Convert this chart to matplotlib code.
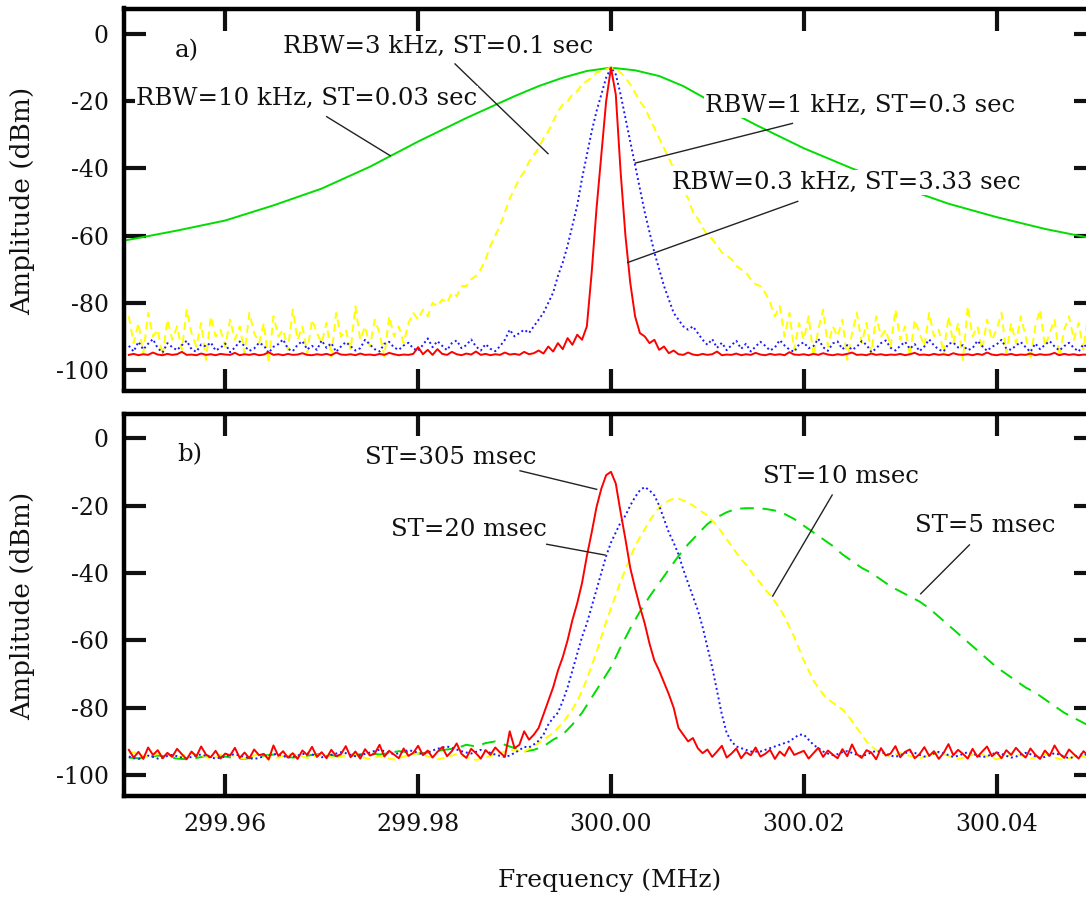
import numpy as np
import matplotlib
matplotlib.use("Agg")
import matplotlib.pyplot as plt

plt.rcParams['font.family'] = ['DejaVu Serif']
plt.rcParams['axes.unicode_minus'] = False

# frequency grid start and spacing (MHz) for the sampled traces
F0 = 299.95
STEP = 0.0005

# ---- panel a) : RBW / sweep time pairs ----
green_a_freq = [299.9495, 299.955, 299.960, 299.965, 299.970, 299.975, 299.980, 299.985,
                299.990, 299.9925, 299.995, 299.9975, 300.000, 300.0025, 300.005, 300.0075,
                300.010, 300.015, 300.020, 300.025, 300.030, 300.035, 300.040, 300.045, 300.0502]
green_a_amp = [-61.5, -58.5, -55.5, -51, -46, -39.5, -32, -25,
               -18.5, -15.5, -13, -11, -10, -10.8, -12.5, -15.5,
               -19.5, -27, -34, -40, -45.5, -50.5, -54.5, -58, -61]

yellow_a_amp = [
    -84, -92, -86, -95, -83, -90, -88, -96, -85, -91, -87, -94, -82, -89, -93, -86, -97, -84, -90, -88,
    -93, -85, -91, -87, -95, -83, -89, -92, -86, -98, -84, -90, -88, -94, -82, -91, -87, -95, -85, -89,
    -92, -86, -96, -83, -90, -88, -94, -81, -91, -87, -93, -85, -89, -96, -84, -90, -87, -92, -86, -83,
    -85, -82, -84, -80, -81, -79, -80, -77, -78, -75, -75, -73, -72, -70, -67, -63, -60, -57, -53, -49,
    -46, -43, -41, -38, -36, -34, -31, -29, -26, -23, -21, -20, -18, -17, -15, -14, -13, -11.5, -11, -10.5,
    -10, -10.5, -11.5, -13, -15, -17.5, -20, -22, -25, -28, -31, -34, -37, -40, -43, -46, -49, -53, -55, -57.5,
    -60, -61, -63, -65, -66, -67, -69, -70, -71, -73, -74.5, -75, -77, -80, -84, -81, -90, -83, -94, -86,
    -91, -84, -96, -88, -82, -93, -87, -90, -85, -97, -89, -83, -92, -86, -95, -84, -90, -88, -93, -82,
    -91, -87, -96, -85, -89, -93, -83, -90, -88, -95, -84, -92, -86, -97, -81, -90, -87, -94, -85, -91,
    -88, -83, -95, -86, -92, -84, -90, -97, -87, -82, -93, -89, -85, -96, -88, -84, -91, -86, -94, -83, -90]

blue_a_amp = [
    -92.8, -94.5, -91.6, -93.9, -92.2, -90.8, -93.5, -94.8, -92.0, -93.2, -94.1, -92.6, -91.3, -93.8, -94.6, -92.4, -93.0, -91.8, -94.2, -93.4,
    -92.1, -94.7, -93.3, -91.5, -92.9, -94.3, -93.6, -91.9, -92.7, -94.9, -93.1, -92.3, -90.9, -93.7, -94.4, -92.5, -91.4, -93.9, -92.8, -94.0,
    -91.2, -93.4, -92.0, -94.6, -93.0, -91.7, -92.9, -94.2, -93.5, -91.0, -92.4, -93.8, -94.5, -92.2, -91.6, -93.3, -94.0, -92.7, -91.9, -93.6,
    -94.3, -92.5, -90.6, -93.2, -91.4, -92.8, -94.1, -92.0, -91.2, -93.5, -92.6, -90.9, -93.0, -94.2, -92.3, -93.7, -94.4, -92.9, -91, -88,
    -90, -89, -88, -89, -87, -85, -83, -80, -77, -72, -68, -63, -57, -51, -43, -36, -29, -23, -18, -13,
    -10, -12, -18, -25, -32, -39, -46, -53, -59, -65, -70, -75, -79, -83, -85, -87, -88, -87, -89, -91,
    -92.5, -90.8, -93.4, -91.9, -94.1, -92.6, -91.3, -93.7, -92.2, -94.5, -93.0, -91.6, -92.8, -94.2, -93.3, -91.1, -92.7, -93.9, -94.6, -92.4,
    -91.8, -93.5, -92.9, -90.7, -93.2, -94.3, -92.1, -91.5, -93.8, -92.6, -94.0, -93.1, -91.4, -92.5, -94.7, -93.6, -92.0, -91.2, -93.4, -94.2,
    -92.8, -91.6, -93.7, -92.3, -94.4, -93.0, -90.9, -92.7, -93.9, -94.5, -92.2, -91.8, -93.3, -92.6, -94.1, -93.5, -91.3, -92.9, -94.3, -93.1,
    -92.4, -91.0, -93.6, -94.0, -92.7, -91.7, -93.2, -94.6, -92.1, -93.8, -92.5, -91.4, -93.0, -94.2, -92.9, -91.9, -93.4, -94.5, -92.3, -93.7, -92.8]

red_a_amp = [
    -95.5, -95.2, -95.6, -95.3, -95.5, -94.8, -95.4, -95.6, -95.2, -95.5, -95.3, -94.6, -95.5, -95.4, -95.6, -95.1, -95.5, -95.3, -95.6, -95.2,
    -95.4, -95.5, -94.9, -95.6, -95.3, -95.5, -95.2, -95.6, -95.4, -94.7, -95.5, -95.3, -95.6, -95.2, -95.5, -95.4, -95.0, -95.5, -95.6, -95.3,
    -95.5, -95.2, -95.6, -94.8, -95.4, -95.5, -95.3, -95.6, -95.1, -95.5, -95.4, -95.6, -95.2, -95.5, -94.9, -95.3, -95.6, -95.4, -95.5, -95.2,
    -93.2, -95.3, -94.0, -95.5, -93.8, -95.2, -95.5, -94.6, -95.3, -95.6, -95.1, -95.4, -94.5, -95.5, -95.2, -95.6, -95.3, -95.5, -94.8, -95.4,
    -95.2, -95.5, -94.6, -95.3, -95.0, -94.2, -95.1, -93.0, -94.5, -92.0, -93.8, -90.5, -92.5, -89.5, -91.0, -87, -71, -52, -36, -20,
    -10, -18, -41, -60, -74, -84, -89, -90, -92, -91, -94, -93, -95.0, -94.2, -95.3, -95.5, -94.8, -95.4, -95.6, -95.2,
    -95.5, -95.3, -94.5, -95.6, -95.4, -95.5, -95.1, -95.6, -95.3, -95.5, -94.9, -95.4, -95.6, -95.2, -95.5, -95.3, -95.6, -94.7, -95.4, -95.5,
    -95.3, -95.6, -95.2, -95.5, -95.0, -95.4, -95.6, -95.3, -95.5, -95.2, -94.8, -95.5, -95.4, -95.6, -95.1, -95.5, -95.3, -95.6, -95.4, -95.5,
    -95.2, -95.6, -95.3, -94.9, -95.5, -95.4, -95.6, -95.2, -95.5, -95.3, -95.6, -95.0, -95.4, -95.5, -95.3, -95.6, -95.2, -95.5, -94.8, -95.4,
    -95.6, -95.3, -95.5, -95.2, -95.6, -95.4, -95.5, -95.1, -95.6, -95.3, -95.5, -95.4, -94.9, -95.6, -95.2, -95.5, -95.3, -95.6, -95.4, -95.5, -95.3]

# ---- panel b) : fixed RBW, different sweep times ----
green_b_step = 0.001
green_b_amp = [
    -94.8, -95.0, -94.6, -94.2, -94.5, -95.1, -95.3, -94.9, -94.4, -94.1, -94.5, -95.0, -95.2, -94.7, -94.2, -93.9, -94.3, -94.8, -94.5, -94.0,
    -93.7, -94.1, -94.6, -94.3, -93.8, -93.5, -93.9, -93.4, -92.9, -93.2, -93.6, -93.3, -92.8, -92.4, -92.0, -91.0, -91.5, -90.5, -90.0, -91.0,
    -92, -93, -92.5, -91.5, -89.5, -88, -85, -81.5, -77, -72.5, -68, -62, -56.5, -51.5, -47, -43, -39, -35, -31.5, -28.5,
    -25.5, -23.5, -22, -21, -20.8, -20.8, -21, -21.5, -22.5, -24, -26, -28, -30, -32, -34.5, -36.5, -38.5, -40, -42, -44,
    -45.5, -47, -48.5, -50.5, -53, -55.5, -58, -60.5, -63, -65.5, -68, -70, -72, -74, -75.5, -77.5, -79.5, -81.5, -83, -84.5, -86]

yellow_b_amp = [
    -93.6, -93.2, -93.8, -94.3, -94.6, -94.1, -93.7, -93.4, -93.9, -94.5, -94.8, -94.4, -93.9, -93.5, -93.8, -94.2, -94.7, -95.0, -94.6, -94.0,
    -93.6, -93.9, -94.4, -94.9, -95.1, -94.7, -94.2, -93.8, -94.1, -94.6, -95.0, -94.8, -94.3, -93.9, -93.6, -94.0, -94.5, -94.9, -94.6, -94.2,
    -93.8, -94.2, -94.7, -95.0, -94.6, -94.1, -93.7, -94.0, -94.5, -94.9, -95.2, -94.8, -94.4, -94.7, -95.1, -95.4, -95.0, -94.5, -94.1, -93.8,
    -93.5, -93.9, -94.4, -94.9, -95.3, -95.0, -94.6, -94.2, -93.8, -94.1, -94.6, -95.1, -95.5, -95.2, -94.7, -94.3, -93.9, -93.4, -93.0, -92.7,
    -92.5, -92.9, -93.0, -92.3, -91.5, -90.5, -89.5, -88.5, -87.5, -86, -84.5, -82.5, -80.5, -78, -75, -71.5, -67.5, -63.5, -59, -54.5,
    -50.5, -46.5, -42.5, -39, -35.5, -32, -29.5, -27, -24.5, -22.5, -20.5, -19.5, -18.5, -18, -18, -18.5, -19, -20, -21, -22,
    -23, -24.5, -26, -28, -30, -32, -34, -36, -37.5, -39.5, -41.5, -43, -45, -46.5, -48.5, -50.5, -53, -56, -59, -62.5,
    -66, -69, -72, -74, -76, -77.5, -78.5, -79.5, -80.5, -82, -84, -86, -88, -90, -91.5, -92.5, -93.5, -94.0, -94.4, -93.9,
    -93.5, -93.8, -94.3, -94.7, -95.0, -94.6, -94.1, -93.7, -93.4, -93.8, -94.3, -94.8, -95.2, -94.9, -94.4, -94.0, -93.6, -93.9, -94.5, -95.0,
    -95.3, -94.9, -94.4, -94.0, -93.7, -94.1, -94.6, -95.1, -94.8, -94.3, -93.9, -94.2, -94.7, -95.2, -95.5, -95.1, -94.6, -94.2, -94.5, -95.0, -95.3]

blue_b_amp = [
    -94.5, -95.0, -95.2, -94.8, -94.2, -94.6, -95.1, -94.9, -94.3, -94.0, -94.4, -94.8, -95.0, -94.6, -94.1, -93.9, -94.3, -94.7, -95.1, -94.8,
    -94.5, -94.0, -93.8, -94.2, -94.6, -95.0, -95.2, -94.9, -94.4, -94.1, -93.7, -93.9, -94.3, -94.8, -94.6, -94.2, -93.8, -93.5, -93.9, -94.3,
    -94.7, -94.5, -94.0, -93.6, -93.2, -93.5, -94.0, -94.4, -94.1, -93.7, -93.3, -92.8, -92.5, -92.9, -93.4, -93.8, -93.5, -93.0, -92.6, -92.9,
    -93.4, -93.8, -93.3, -92.7, -92.2, -91.8, -91.5, -91.9, -92.4, -92.9, -93.3, -93.6, -93.1, -92.5, -92.8, -93.4, -93.9, -94.3, -94.6, -94.2,
    -93.4, -92.6, -91.6, -91.8, -90.9, -89.8, -88, -85, -83, -81.5, -78, -74, -69, -64, -59, -55, -50, -45, -40, -35,
    -31, -28, -25, -23, -20, -17.5, -15.5, -14.5, -15.5, -17, -20, -24, -28, -31, -34.5, -39, -43, -47, -51, -56,
    -62, -68, -75, -82, -87.5, -90, -91.5, -92, -92.5, -93, -93, -93, -92.5, -92, -91.5, -91, -90.5, -90, -89, -88,
    -88, -89.5, -91, -92, -93.0, -93.6, -94.1, -93.8, -93.2, -92.9, -93.4, -94.0, -94.4, -93.9, -93.3, -92.8, -93.1, -93.7, -94.2, -94.6,
    -94.1, -93.5, -93.0, -93.4, -94.0, -94.5, -94.2, -93.6, -93.1, -93.5, -94.1, -94.6, -94.3, -93.7, -93.2, -93.6, -94.2, -94.7, -94.4, -93.8,
    -93.3, -93.7, -94.3, -94.8, -94.5, -93.9, -93.4, -93.8, -94.4, -94.9, -94.6, -94.0, -93.5, -93.9, -94.5, -95.0, -94.6, -94.1, -93.7, -94.2, -94.6]

red_b_amp = [
    -92.5, -94.8, -93.1, -95.2, -91.8, -94.0, -92.6, -95.0, -93.4, -94.6, -92.2, -93.8, -95.3, -93.0, -94.5, -91.5, -93.9, -94.7, -92.8, -95.1,
    -93.6, -94.2, -91.9, -94.9, -93.3, -95.0, -92.4, -94.1, -93.7, -95.4, -91.2, -94.3, -92.9, -94.8, -93.5, -95.2, -92.7, -94.0, -91.6, -94.6,
    -93.2, -95.0, -92.5, -94.4, -93.8, -91.4, -94.7, -93.0, -95.1, -92.3, -94.2, -93.6, -91.0, -94.5, -92.8, -93.9, -95.0, -92.1, -94.3, -93.4,
    -91.3, -94.1, -92.7, -94.8, -93.1, -91.7, -94.4, -92.9, -90.6, -93.7, -94.9, -92.2, -93.5, -95.1, -92.6, -94.0, -91.8, -93.3, -94.6, -87.0,
    -92.0, -91.0, -87.0, -89.5, -88.0, -86.0, -82, -78, -74, -69, -65, -60, -54, -49, -43, -35, -28, -20.5, -15, -11,
    -10, -13.5, -22, -30, -38.5, -44.5, -50, -55, -61, -66, -69, -72.5, -76, -80, -86, -88, -90, -89, -92, -93.5,
    -92.4, -94.6, -93.0, -91.3, -94.8, -93.6, -92.1, -95.0, -93.2, -94.1, -91.8, -94.5, -93.7, -92.5, -95.2, -93.0, -94.3, -91.6, -94.0, -93.4,
    -92.8, -95.1, -93.5, -91.9, -94.6, -92.7, -93.9, -95.0, -92.3, -94.4, -90.9, -93.8, -94.9, -92.6, -93.3, -95.3, -92.0, -94.2, -93.6, -91.4,
    -94.7, -93.1, -92.4, -95.0, -93.8, -91.7, -94.3, -92.9, -95.2, -93.4, -90.8, -94.1, -92.5, -93.7, -95.1, -92.2, -94.6, -93.0, -91.5, -94.4,
    -93.2, -95.0, -92.6, -94.0, -91.9, -93.5, -94.8, -92.1, -93.9, -95.2, -92.7, -94.3, -91.2, -93.6, -94.9, -92.4, -93.8, -95.1, -92.9, -94.2, -93.4]

for name, vals, n in [("yellow_a", yellow_a_amp, 201), ("blue_a", blue_a_amp, 201),
                      ("red_a", red_a_amp, 201), ("yellow_b", yellow_b_amp, 201),
                      ("blue_b", blue_b_amp, 201), ("red_b", red_b_amp, 201),
                      ("green_b", green_b_amp, 101)]:
    assert len(vals) == n, (name, len(vals))


def grid(vals, step=STEP):
    return F0 + step * np.arange(len(vals))


GREEN = "#00dd00"
YELLOW = "#ffff00"
BLUE = "#1a1aff"
RED = "#ff0000"

LW = 1.4
fig = plt.figure(figsize=(10.86, 8.98), dpi=100)
W, H = 1086.0, 898.0
ax1 = fig.add_axes([124 / W, (H - 390.5) / H, (1096 - 124) / W, (390.5 - 8.5) / H])
ax2 = fig.add_axes([124 / W, (H - 796) / H, (1096 - 124) / W, (796 - 413.5) / H])

# panel a
ax1.plot(green_a_freq, green_a_amp, color=GREEN, lw=LW)
ax1.plot(grid(yellow_a_amp), yellow_a_amp, color=YELLOW, lw=LW, ls=(0, (4, 2.6)))
ax1.plot(grid(blue_a_amp), blue_a_amp, color=BLUE, lw=LW, ls=(0, (1, 1.5)))
ax1.plot(grid(red_a_amp), red_a_amp, color=RED, lw=LW)

# panel b
ax2.plot(grid(green_b_amp, green_b_step), green_b_amp, color=GREEN, lw=LW, ls=(0, (7, 4.5)))
ax2.plot(grid(yellow_b_amp), yellow_b_amp, color=YELLOW, lw=LW, ls=(0, (4, 2.6)))
ax2.plot(grid(blue_b_amp), blue_b_amp, color=BLUE, lw=LW, ls=(0, (1, 1.5)))
ax2.plot(grid(red_b_amp), red_b_amp, color=RED, lw=LW)

FS_TICK = 17
for ax in (ax1, ax2):
    ax.set_xlim(299.9495, 300.0503)
    ax.set_xticks([299.96, 299.98, 300.00, 300.02, 300.04])
    ax.set_yticks([0, -20, -40, -60, -80, -100])
    ax.tick_params(direction="in", length=16, width=3, top=True, right=True,
                   labelsize=FS_TICK, colors="#111111")
    ax.tick_params(axis="y", pad=11)
    ax.tick_params(axis="x", pad=12)
    for s in ax.spines.values():
        s.set_linewidth(3.2)
        s.set_zorder(7)
ax1.set_ylim(-106.1, 7.6)
ax2.set_ylim(-106.2, 7.3)
ax1.tick_params(labelbottom=False)
ax2.xaxis.set_major_formatter(plt.FormatStrFormatter("%.2f"))

FS_TXT = 17.6
box = dict(facecolor="white", edgecolor="none", pad=0.5)

# labels with pointer lines: (text, text_xy, line_start, line_end)
notes_a = [
    ("RBW=3 kHz, ST=0.1 sec", (299.98202, -3.6), (299.98383, -8.9), (299.99347, -35.6)),
    ("RBW=10 kHz, ST=0.03 sec", (299.96840, -19.2), (299.97052, -24.6), (299.97710, -36.2)),
    ("RBW=1 kHz, ST=0.3 sec", (300.0258, -21.4), (300.01882, -26.6), (300.00253, -38.4)),
    ("RBW=0.3 kHz, ST=3.33 sec", (300.0244, -44.2), (300.01937, -49.8), (300.00174, -68.0)),
]
notes_b = [
    ("ST=305 msec", (299.98342, -5.8), (299.99057, -9.7), (299.99852, -15.2)),
    ("ST=20 msec", (299.98528, -27.0), (299.99334, -31.5), (299.99938, -34.7)),
    ("ST=10 msec", (300.02383, -11.5), (300.02294, -16.9), (300.01677, -46.9)),
    ("ST=5 msec", (300.03882, -25.8), (300.03717, -31.7), (300.03212, -46.2)),
]
for ax, notes in ((ax1, notes_a), (ax2, notes_b)):
    for txt, pos, p0, p1 in notes:
        ax.plot([p0[0], p1[0]], [p0[1], p1[1]], color="#222222", lw=1.0, zorder=5)
        ax.text(pos[0], pos[1], txt, fontsize=FS_TXT, ha="center", va="center",
                color="#111111", bbox=box, zorder=6)

ax1.text(299.95596, -5.0, "a)", fontsize=FS_TXT, ha="center", va="center", color="#111111")
ax2.text(299.95637, -5.0, "b)", fontsize=FS_TXT, ha="center", va="center", color="#111111")

fig.text(23 / W, 1 - 201 / H, "Amplitude (dBm)", rotation=90, fontsize=19,
         ha="center", va="center", color="#111111")
fig.text(23 / W, 1 - 606 / H, "Amplitude (dBm)", rotation=90, fontsize=19,
         ha="center", va="center", color="#111111")
fig.text(610 / W, 1 - 880 / H, "Frequency (MHz)", fontsize=18,
         ha="center", va="center", color="#111111")

fig.savefig("out.png", dpi=100)
